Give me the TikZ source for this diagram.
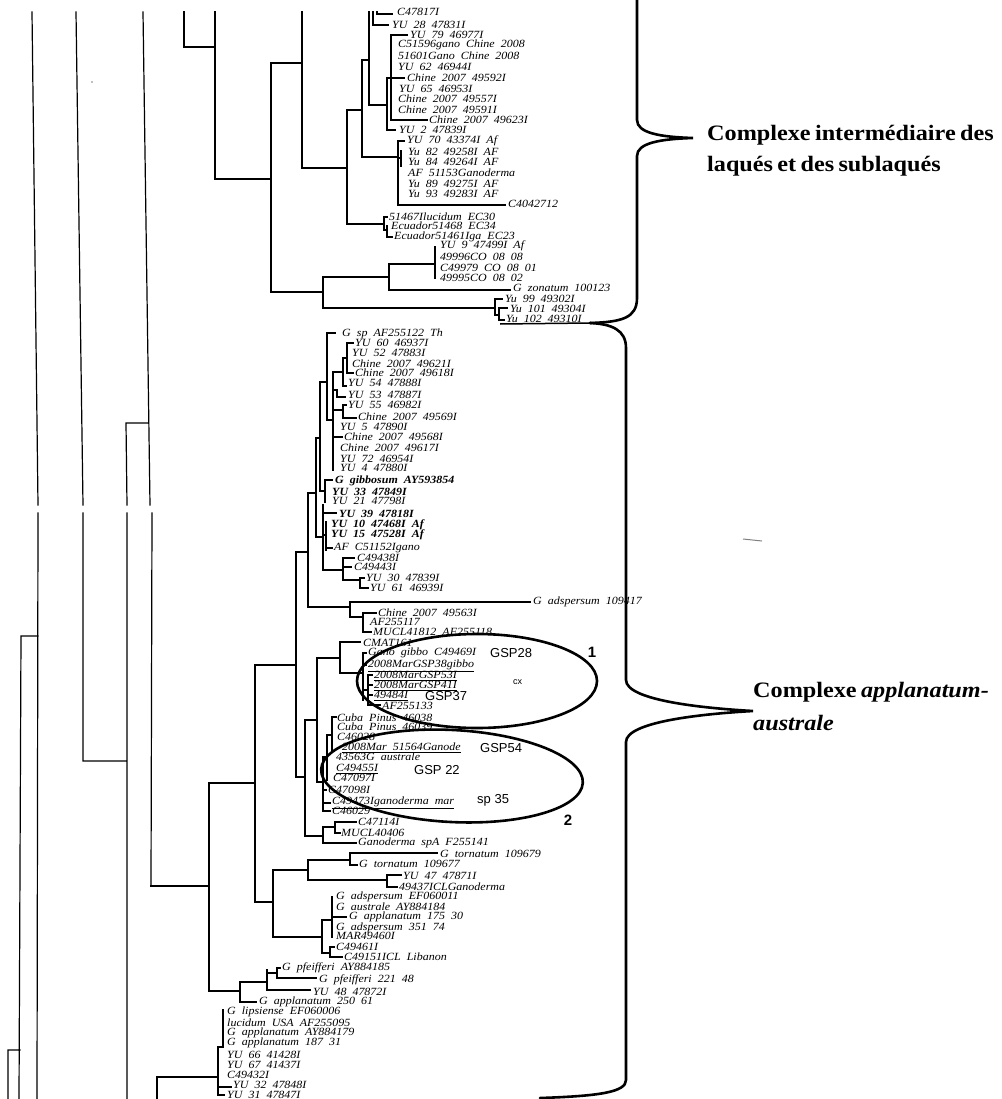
\documentclass[tikz,border=0pt]{standalone}
\usepackage{fontspec}
\setmainfont{Liberation Serif}
\newfontfamily\labfam{Liberation Serif}
\newfontfamily\bigfam{Liberation Serif}
\newfontfamily\hwfam{Liberation Sans}
\newcommand\mylabfont{\labfam\itshape\fontsize{11}{11}\selectfont\spaceskip 0.5em\relax}
\newcommand\myblabfont{\labfam\itshape\bfseries\fontsize{11}{11}\selectfont\spaceskip 0.5em\relax}
\newcommand\mybigfont{\bigfam\bfseries\fontsize{22}{24}\selectfont\spaceskip 0.18em\relax}
\newcommand\wide[1]{\scalebox{1.09}[1]{#1}}
\begin{document}
\begin{tikzpicture}[x=1pt,y=-1pt,
  tr/.style={line width=1.2pt,line cap=rect},
  brace/.style={line width=2.6pt,line cap=round},
  ring/.style={line width=2.6pt},
  lab/.style={anchor=west,inner sep=0pt,font=\mylabfont},
  blab/.style={lab,font=\myblabfont},
  hw/.style={anchor=west,inner sep=0pt,font=\hwfam\fontsize{13}{13}\selectfont},
  num/.style={inner sep=0pt,font=\hwfam\bfseries\fontsize{15}{15}\selectfont},
  big/.style={anchor=base west,inner sep=0pt,font=\mybigfont},
  ul/.style={line width=0.9pt}]
\useasboundingbox (0,0) rectangle (1001,1099);
\clip (0,0) rectangle (1001,1099);
\fill[white] (0,0) rectangle (1001,1099);

% long left lines (with the scan break)
\draw[tr] (32,12)--(38,505) (76,12)--(83,505) (143,12)--(150,505)
          (38,513)--(37,1099) (83,513)--(83,761) (152,513)--(151,886)
          (126,423)--(127,505) (127,513)--(127,1099) (126,423)--(148,423)
          (83,761)--(127,761)
          (21,636)--(38,636) (21,636)--(19,1099)
          (8,1050)--(20,1050) (8,1050)--(8,1099);

% upper clade
\draw[tr] (184,12)--(184,47) (184,47)--(215,47) (215,12)--(215,179) (215,179)--(271,179)
          (271,63)--(271,292) (271,63)--(302,63) (302,12)--(302,168) (302,168)--(347,168)
          (347,110)--(347,224) (347,110)--(362,110) (347,224)--(384,224)
          (362,60)--(362,157) (362,60)--(369,60) (362,157)--(398,157)
          (369,12)--(369,105) (369,105)--(387,105)
          (373,12)--(373,25) (373,25)--(388,25) (377,12)--(377,14) (377,14)--(392,14)
          (387,78)--(387,130) (387,78)--(404,78) (387,130)--(395,130)
          (391,35)--(391,120) (391,35)--(407,35) (391,120)--(427,120)
          (398,141)--(398,205) (398,141)--(404,141) (398,205)--(505,205)
          (398,158)--(401,158) (401,151)--(401,166)
          (384,217)--(384,230) (384,217)--(387,217) (384,230)--(387,230)
          (387,226)--(387,237) (387,237)--(392,237)
          (271,292)--(323,292) (323,277)--(323,308)
          (323,277)--(389,277) (389,264)--(389,290) (389,264)--(435,264)
          (435,247)--(435,278) (389,290)--(510,290)
          (323,308)--(495,308) (495,299)--(495,315) (495,299)--(502,299)
          (495,315)--(499,315) (499,308)--(499,320) (499,308)--(507,308) (499,320)--(504,320);

% lower clade: top cluster
\draw[tr] (327,333)--(335,333) (327,333)--(327,420) (327,420)--(333,420)
          (333,372)--(333,470) (333,372)--(343,372)
          (343,358)--(343,386) (343,358)--(347,358) (343,386)--(346,386)
          (347,343)--(347,373) (347,343)--(353,343) (347,373)--(353,373)
          (333,390)--(337,390) (337,390)--(337,397) (337,397)--(345,397)
          (333,410)--(343,410) (343,405)--(343,418) (343,405)--(346,405) (343,418)--(356,418)
          (333,437)--(342,437)
          (320,382)--(327,382) (320,382)--(320,491) (320,491)--(325,491)
          (325,480)--(325,502) (325,480)--(332,480)
          (316,438)--(320,438) (316,438)--(316,537) (316,537)--(323,537)
          (323,505)--(323,570) (323,513)--(336,513) (323,535)--(326,535)
          (326,522)--(326,550) (326,548)--(332,548)
          (323,570)--(343,570) (343,558)--(343,580) (343,558)--(354,558) (343,567)--(351,567)
          (343,580)--(360,580) (360,578)--(360,588) (360,578)--(364,578) (360,588)--(368,588)
          (308,493)--(316,493) (308,493)--(308,607) (308,607)--(350,607)
          (350,602)--(350,617) (350,602)--(530,602) (350,617)--(363,617)
          (363,613)--(363,632) (363,613)--(376,613) (363,632)--(371,632);

% lower clade: spine and rest
\draw[tr] (296,552)--(308,552) (296,552)--(296,777) (296,777)--(305,777)
          (296,665)--(255,665) (255,665)--(255,902) (255,783)--(209,783)
          (209,783)--(209,991) (209,886)--(151,886) (255,902)--(273,902)
          (209,991)--(240,991) (240,982)--(240,1002) (240,1002)--(256,1002)
          (240,982)--(267,982) (267,970)--(267,990) (267,990)--(310,990)
          (267,973)--(277,973) (277,968)--(277,978) (277,968)--(280,968) (277,978)--(316,978)
          (305,720)--(305,836) (305,720)--(317,720) (317,658)--(317,782) (317,658)--(340,658)
          (340,642)--(340,673) (340,642)--(360,642) (340,673)--(363,673)
          (363,653)--(363,700) (363,653)--(366,653) (363,665)--(366,665) (363,690)--(368,690)
          (368,675)--(368,705) (368,675)--(372,675) (368,685)--(372,685) (368,695)--(372,695) (368,705)--(380,705)
          (317,782)--(323,782) (323,757)--(323,811) (323,757)--(327,757)
          (327,735)--(327,780) (327,735)--(332,735) (332,717)--(332,752) (332,717)--(336,717)
          (323,803)--(330,803) (323,811)--(330,811) (323,790)--(326,790)
          (305,836)--(323,836) (323,827)--(323,843) (323,827)--(335,827)
          (335,822)--(335,833) (335,822)--(356,822) (335,833)--(340,833) (323,843)--(356,843)
          (273,870)--(273,937) (273,870)--(308,870) (308,860)--(308,880)
          (308,860)--(350,860) (350,853)--(350,865) (350,853)--(437,853) (350,865)--(357,865)
          (308,880)--(387,880) (387,875)--(387,887) (387,875)--(401,875) (387,887)--(397,887)
          (273,937)--(322,937) (322,920)--(322,953) (322,920)--(332,920)
          (332,897)--(332,937) (332,917)--(346,917)
          (322,953)--(330,953) (330,947)--(330,957) (330,947)--(334,947) (330,957)--(342,957)
          (157,1077)--(157,1099) (157,1077)--(218,1077)
          (223,1010)--(223,1047) (218,1047)--(223,1047) (218,1047)--(218,1095)
          (218,1087)--(231,1087) (218,1095)--(224,1095);

% labels
\foreach \n/\x/\y/\t in {
 1/397/12/C47817I, 2/392/25/YU 28 47831I, 3/410/35/YU 79 46977I,
 4/398/45/C51596gano Chine 2008, 5/398/56/51601Gano Chine 2008, 6/398/67/YU 62 46944I,
 7/407/78/Chine 2007 49592I, 8/399/89/YU 65 46953I, 9/398/99/Chine 2007 49557I,
 10/398/110/Chine 2007 49591I, 11/429/120/Chine 2007 49623I, 12/399/130/YU 2 47839I,
 13/407/141/YU 70 43374I Af, 14/408/152/Yu 82 49258I AF, 15/408/162/Yu 84 49264I AF,
 16/408/173/AF 51153Ganoderma, 17/408/184/Yu 89 49275I AF, 18/408/194/Yu 93 49283I AF,
 19/508/204/C4042712, 20/389/217/51467Ilucidum EC30, 21/391/226/Ecuador51468 EC34,
 22/394/237/Ecuador51461Iga EC23, 23/440/246/YU 9 47499I Af, 24/440/257/49996CO 08 08,
 25/440/268/C49979 CO 08 01, 26/440/278/49995CO 08 02, 27/513/288/G zonatum 100123,
 28/505/299/Yu 99 49302I, 29/510/309/Yu 101 49304I, 30/506/319/Yu 102 49310I,
 31/342/334/G sp AF255122 Th, 32/355/343/YU 60 46937I, 33/352/353/YU 52 47883I,
 34/352/364/Chine 2007 49621I, 35/355/373/Chine 2007 49618I, 36/348/383/YU 54 47888I,
 37/348/395/YU 53 47887I, 38/348/405/YU 55 46982I, 39/358/417/Chine 2007 49569I,
 40/340/427/YU 5 47890I, 41/344/437/Chine 2007 49568I, 42/340/448/Chine 2007 49617I,
 43/340/459/YU 72 46954I, 44/340/468/YU 4 47880I,
 47/332/501/YU 21 47798I, 51/334/548/AF C51152Igano, 52/357/558/C49438I,
 53/354/567/C49443I, 54/366/578/YU 30 47839I, 55/370/588/YU 61 46939I,
 56/533/602/G adspersum 109417, 57/378/613/Chine 2007 49563I, 58/370/622/AF255117,
 59/373/632/MUCL41812 AF255118, 60/363/643/CMAT161, 61/368/653/Gano gibbo C49469I,
 62/368/665/2008MarGSP38gibbo, 63/374/675/2008MarGSP53I, 64/374/685/2008MarGSP41I,
 65/374/695/49484I, 66/382/706/AF255133, 67/337/718/Cuba Pinus 46038,
 68/337/727/Cuba Pinus 46039, 69/337/737/C46028, 70/342/747/2008Mar 51564Ganode,
 71/336/757/43563G australe, 72/336/768/C49455I, 73/333/778/C47097I,
 74/328/790/C47098I, 75/332/802/C49473Iganoderma mar, 76/332/811/C46029,
 77/358/822/C47114I, 78/341/833/MUCL40406, 79/358/843/Ganoderma spA F255141,
 80/440/854/G tornatum 109679, 81/359/864/G tornatum 109677, 82/403/876/YU 47 47871I,
 83/399/887/49437ICLGanoderma, 84/336/897/G adspersum EF060011, 85/336/907/G australe AY884184,
 86/349/917/G applanatum 175 30, 87/336/928/G adspersum 351 74, 88/336/936/MAR49460I,
 89/336/947/C49461I, 90/344/957/C49151ICL Libanon, 91/282/968/G pfeifferi AY884185,
 92/319/980/G pfeifferi 221 48, 93/313/992/YU 48 47872I, 94/259/1002/G applanatum 250 61,
 95/227/1012/G lipsiense EF060006, 96/227/1023/lucidum USA AF255095,
 97/227/1033/G applanatum AY884179, 98/227/1043/G applanatum 187 31,
 99/227/1055/YU 66 41428I, 100/227/1065/YU 67 41437I, 101/227/1075/C49432I,
 102/233/1085/YU 32 47848I, 103/227/1095/YU 31 47847I}
 {\node[lab] (l\n) at (\x,\y) {\wide{\t}};}
\node[blab] (l45) at (335,481) {\wide{G gibbosum AY593854}};
\node[blab] (l46) at (332,492) {\wide{YU 33 47849I}};
\node[blab] (l48) at (339,514) {\wide{YU 39 47818I}};
\node[blab] (l49) at (331,525) {\wide{YU 10 47468I Af}};
\node[blab] (l50) at (331,535) {\wide{YU 15 47528I Af}};

% hand underlines
\foreach \n in {62,63,64,65,70,72,75}
  \draw[ul] ([yshift=-1.5pt]l\n.south west) -- ([yshift=-1.5pt]l\n.south east);

% ellipses
\draw[ring] (477,681) ellipse [x radius=120, y radius=47];
\draw[ring] (452,776) [rotate around={-3:(452,776)}] ellipse [x radius=131, y radius=46];

% handwritten notes
\node[hw] (h1) at (490,653) {GSP28};
\node[hw,font=\hwfam\fontsize{9}{9}\selectfont] (h2) at (513,682) {cx};
\node[hw] (h3) at (425,696) {GSP37};
\node[hw] (h4) at (480,748) {GSP54};
\node[hw] (h5) at (414,770) {GSP 22};
\node[hw] (h6) at (477,800) {sp 35};
\node[num] (n1) at (592,652) {1};
\node[num] (n2) at (568,820) {2};

% braces
\coordinate (bj) at (590,323);
\draw[line width=1.5pt] (500,324) -- (bj);
\draw[brace] (637,0) -- (637,120) .. controls (637,133) and (660,137) .. (693,138)
             .. controls (660,139) and (637,143) .. (637,156) -- (637,298)
             .. controls (637,318) and (622,322) .. (bj);
\draw[brace] (bj) .. controls (612,324) and (626,330) .. (626,348) -- (626,680)
             .. controls (626,700) and (700,708) .. (753,711)
             .. controls (700,714) and (626,722) .. (626,742) -- (626,1080)
             .. controls (626,1092) and (600,1096) .. (540,1098);

% group labels
\node[big] (g1) at (707,141) {\scalebox{1.1}[1]{Complexe intermédiaire des}};
\node[big] (g2) at (707,172) {\scalebox{1.1}[1]{laqués et des sublaqués}};
\node[big] (g3) at (753,697) {\scalebox{1.1}[1]{Complexe \textit{applanatum-}}};
\node[big] (g4) at (753,730) {\scalebox{1.1}[1]{\textit{australe}}};

% scan specks
\fill[gray] (92,82) circle (0.9);
\draw[gray,line width=1pt] (743,539)--(762,541);
\end{tikzpicture}
\end{document}
